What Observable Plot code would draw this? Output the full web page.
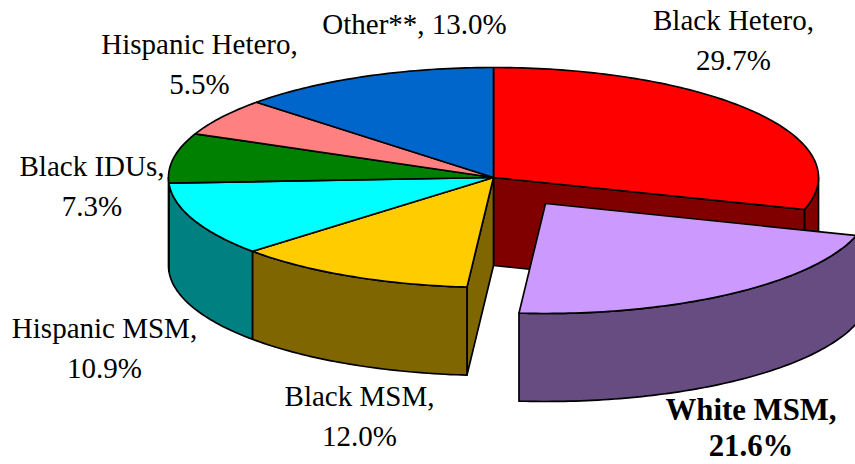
<!DOCTYPE html>
<html>
<head>
<meta charset="utf-8">
<style>html,body{margin:0;padding:0;background:#fff;overflow:hidden}svg{display:block}</style>
<script src="https://cdn.jsdelivr.net/npm/d3@7"></script>
<script src="https://cdn.jsdelivr.net/npm/@observablehq/plot@0.6"></script>
</head>
<body>
<script>
// Data, clockwise from 12 o'clock
const names = ["Black Hetero","White MSM","Black MSM","Hispanic MSM","Black IDUs","Hispanic Hetero","Other**"];
const shares = [29.7,21.6,12.0,10.9,7.3,5.5,13.0];
const topColors = ["#ff0000","#cc99ff","#ffcc00","#00ffff","#008000","#ff8080","#0066cc"];
const wallColors = ["#800000","#664c80","#806600","#008080","#004000","#804040","#003366"];
const exploded = ["White MSM"];

// Pie geometry (page pixels)
const cx = 493, cy = 177, rx = 325, ry = 110, depth = 88;
const explodeDx = 52, explodeDy = 26;

let cum = 0;
const slices = names.map((name, i) => {
  const a0 = cum / 100 * 2 * Math.PI; cum += shares[i];
  const a1 = cum / 100 * 2 * Math.PI;
  const ex = exploded.includes(name);
  return {name, share: shares[i], a0, a1, top: topColors[i], wall: wallColors[i],
          ox: cx + (ex ? explodeDx : 0), oy: cy + (ex ? explodeDy : 0)};
});
const rim = (s, a, d = 0) => ({x: s.ox + rx * Math.sin(a), y: s.oy - ry * Math.cos(a) + d});
const arc = (s, a0, a1, d = 0) => {
  const n = Math.max(2, Math.ceil((a1 - a0) / (Math.PI / 180)));
  return d3.range(n + 1).map(k => rim(s, a0 + (a1 - a0) * k / n, d));
};
const poly = [];
const add = (id, fill, pts) => pts.concat(pts[0]).forEach(p => poly.push({id, fill, x: p.x, y: p.y}));
const wall = (s, a0, a1) => {
  const lo = Math.max(a0, Math.PI / 2), hi = Math.min(a1, 3 * Math.PI / 2);
  if (hi > lo) add(s.name + "-wall", s.wall, [...arc(s, lo, hi), ...arc(s, lo, hi, depth).reverse()]);
};
const cutFace = (s, a, tag) => add(s.name + tag, s.wall, [
  {x: s.ox, y: s.oy}, rim(s, a), rim(s, a, depth), {x: s.ox, y: s.oy + depth}
]);
const topFace = s => add(s.name + "-top", s.top, [{x: s.ox, y: s.oy}, ...arc(s, s.a0, s.a1)]);

const [hetero, white, bmsm] = slices;
const rest = slices.filter(s => s !== white);
wall(hetero, hetero.a0, hetero.a1);
cutFace(hetero, hetero.a1, "-cutA");
cutFace(bmsm, bmsm.a0, "-cutB");
rest.filter(s => s !== hetero).forEach(s => wall(s, s.a0, s.a1));
rest.forEach(topFace);
wall(white, white.a0, white.a1);
topFace(white);

// Label placement
const labelX = [733, 750.5, 359, 104, 91.5, 199, 414];
const labelY = [37, 426, 413, 345, 182.5, 60.5, 20.5];
const labels = slices.map((s, i) => ({
  name: s.name,
  x: labelX[i], y: labelY[i],
  text: s.name === "Other**" ? `${s.name}, ${s.share.toFixed(1)}%` : `${s.name},\n${s.share.toFixed(1)}%`
}));
const isBold = d => exploded.includes(d.name);
const textOpts = {x: "x", y: "y", text: "text", fontFamily: "Liberation Serif", fontSize: 29, lineHeight: 1.38, fill: "#000", textAnchor: "middle"};

const chart = Plot.plot({
  width: 855, height: 464,
  marginTop: 0, marginRight: 0, marginBottom: 0, marginLeft: 0,
  x: {domain: [0, 855], axis: null},
  y: {domain: [464, 0], axis: null},
  color: {type: "identity"},
  style: {background: "#fff"},
  marks: [
    Plot.line(poly, {x: "x", y: "y", z: "id", fill: "fill", stroke: "#000", strokeWidth: 1.7, curve: "linear"}),
    Plot.text(labels.filter(d => !isBold(d)), textOpts),
    Plot.text(labels.filter(isBold), {...textOpts, fontSize: 30.8, lineHeight: 1.16, fontWeight: "bold"})
  ]
});
document.body.appendChild(chart);
</script>
</body>
</html>
